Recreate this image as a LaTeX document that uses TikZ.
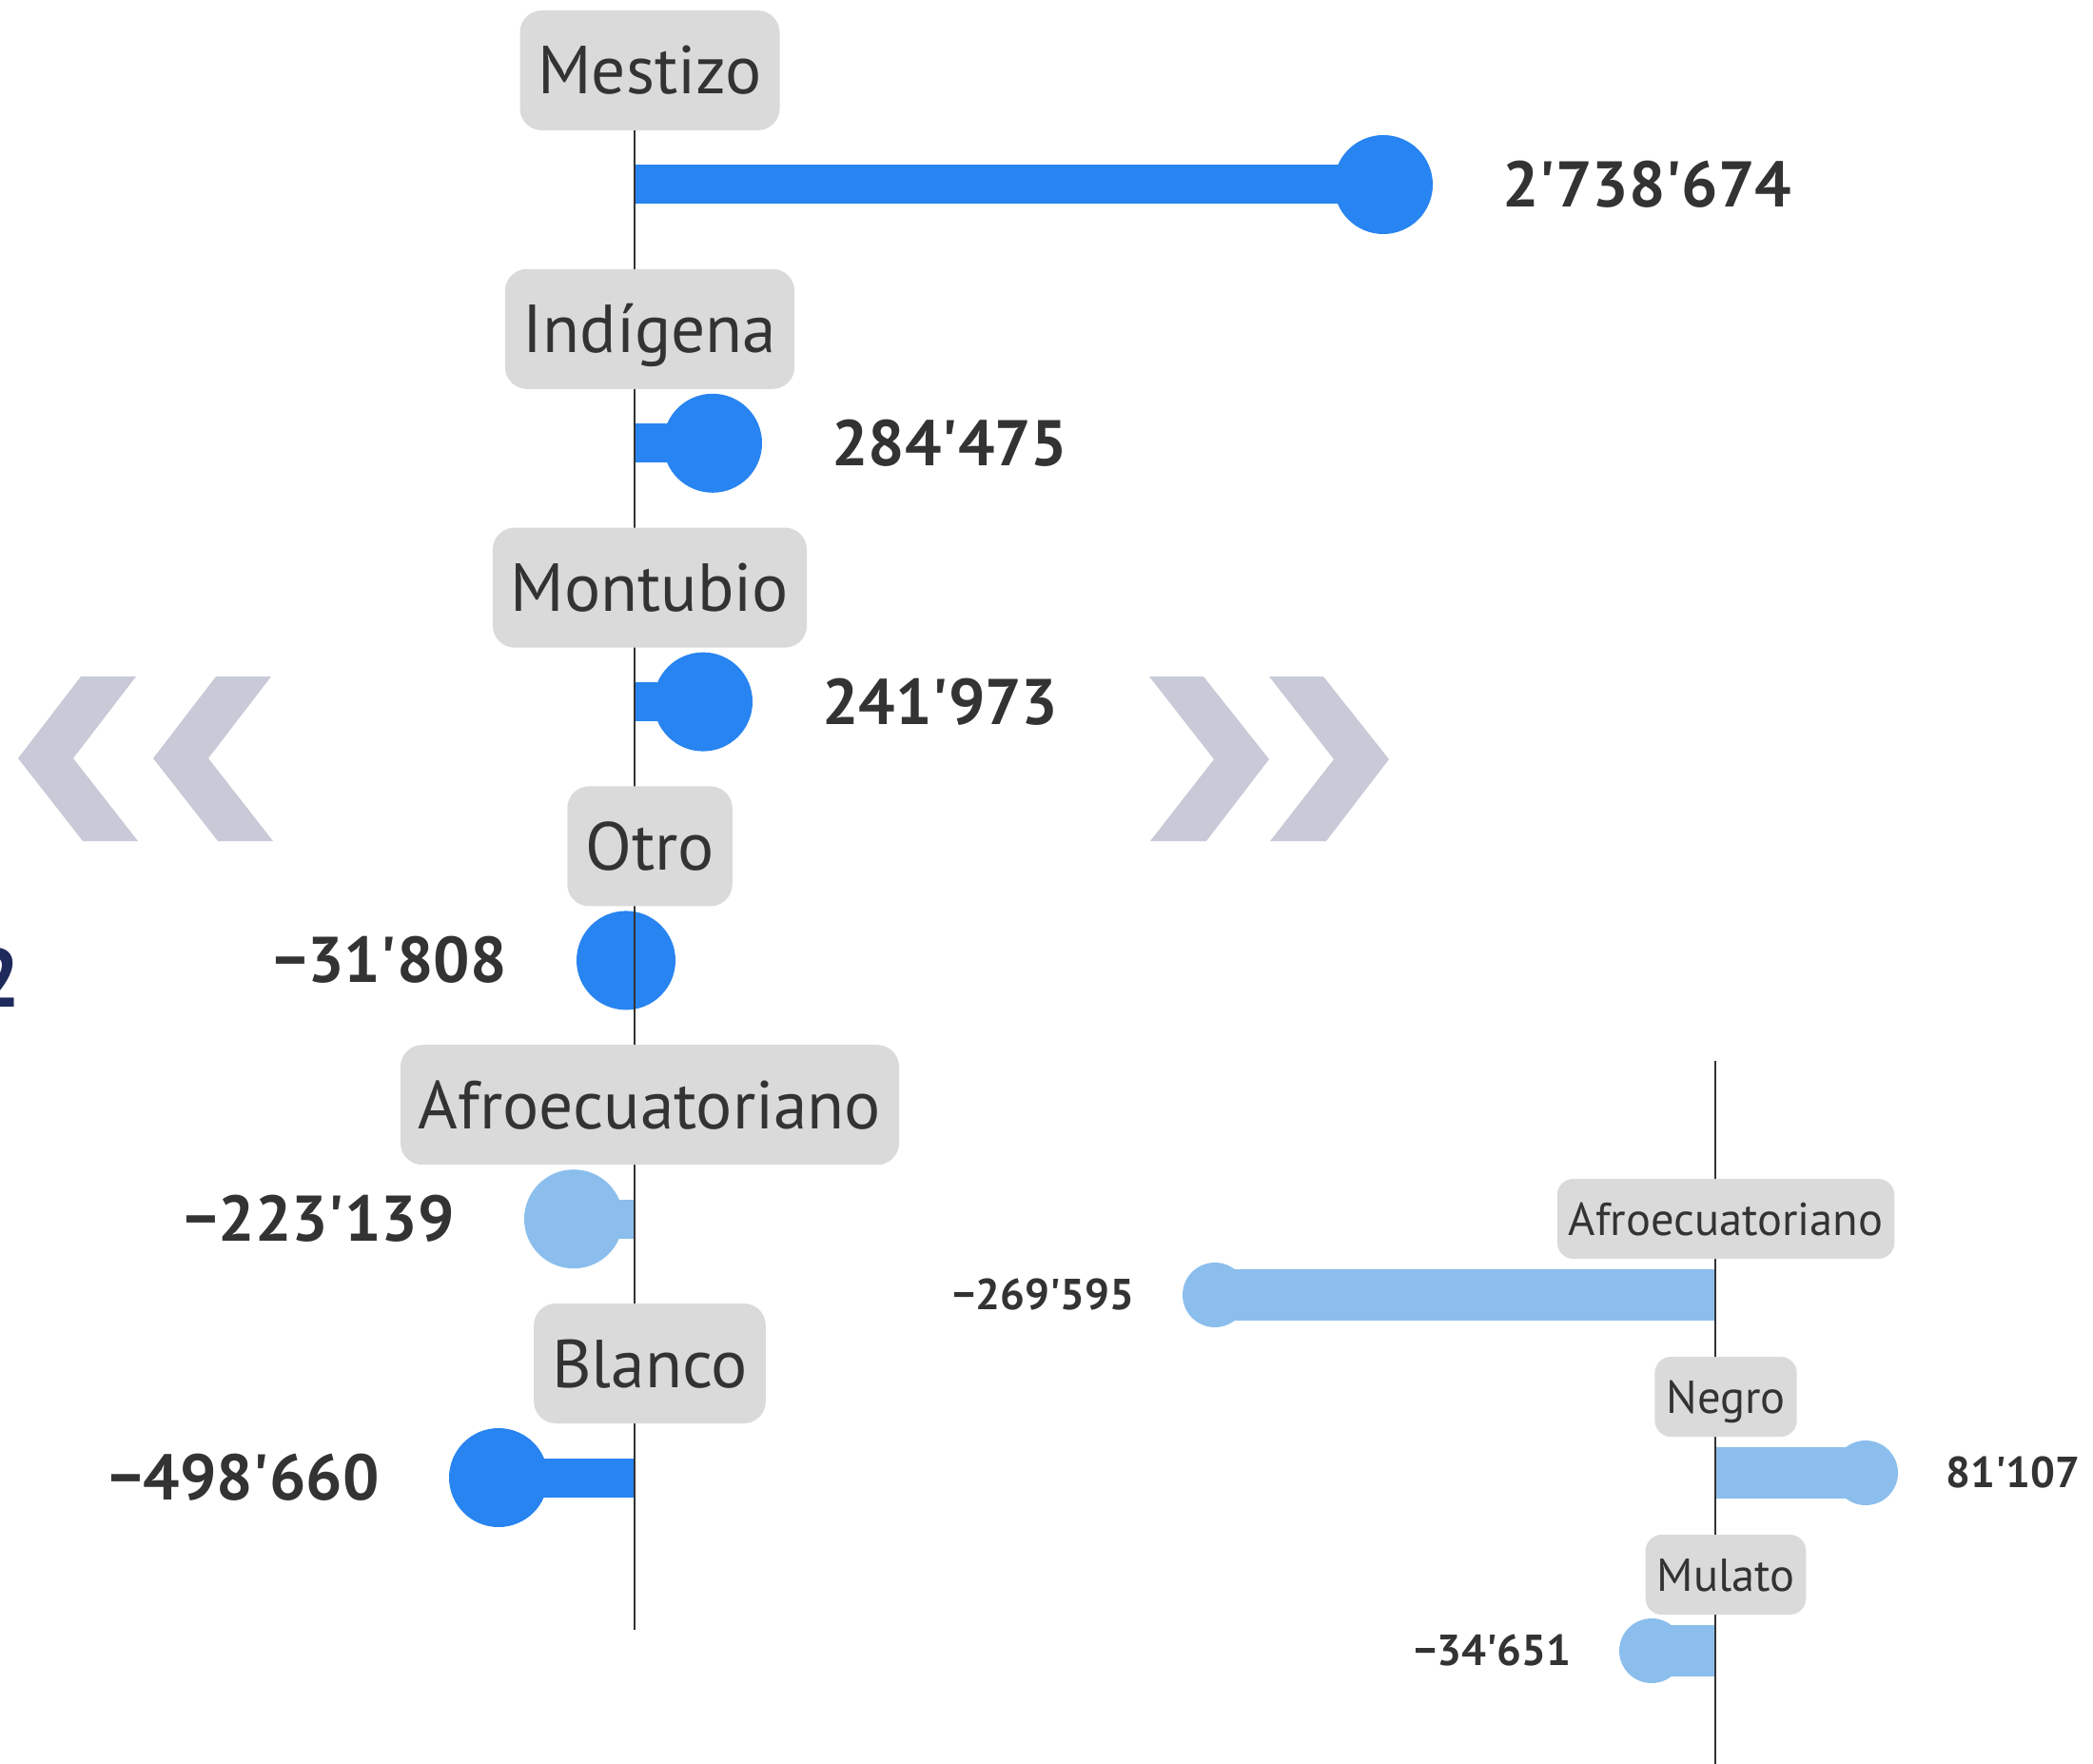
\documentclass[tikz,border=0pt]{standalone}
\usepackage{fontspec}
\setmainfont{PT Sans}[Ligatures=TeXOff]
\usetikzlibrary{positioning}
\definecolor{barblue}{HTML}{2884F0}
\definecolor{barlight}{HTML}{8BBEEC}
\definecolor{tagbg}{HTML}{DADADA}
\definecolor{ink}{HTML}{333333}
\definecolor{chev}{HTML}{C8CAD8}
\definecolor{navy}{HTML}{1F2A5C}
\begin{document}
\begin{tikzpicture}[line join=round,
	tag/.style={fill=tagbg, rounded corners=0.23cm, inner xsep=0.19cm, inner ysep=0.38cm, text height=0.5cm, text depth=0pt, text=ink, font=\fontsize{20.3}{24}\selectfont},
	smalltag/.style={fill=tagbg, rounded corners=0.17cm, inner xsep=0.12cm, inner ysep=0.25cm, text height=0.34cm, text depth=0pt, text=ink, font=\fontsize{13.8}{16}\selectfont},
	val/.style={inner sep=0pt, text height=0.47cm, text depth=0pt, text=ink, font=\bfseries\fontsize{19.3}{23}\selectfont},
	smallval/.style={inner sep=0pt, text height=0.31cm, text depth=0pt, text=ink, font=\bfseries\fontsize{13}{16}\selectfont},
	dot/.style={circle, inner sep=0pt, minimum size=1.04cm},
	smalldot/.style={circle, inner sep=0pt, minimum size=0.68cm},
	bar/.style={line width=0.41cm},
	smallbar/.style={line width=0.54cm},
	axis/.style={draw=ink, line width=0.5pt}]
	\useasboundingbox (0,0) rectangle (22,-18.54);
	% chevrons
	\foreach \x in {0.85,2.27}
		\fill[chev] (\x,-7.11) -- ++(0.58,0) -- ++(-0.66,-0.86) -- ++(0.68,-0.87) -- ++(-0.58,0) -- ++(-0.68,0.87) -- cycle;
	\foreach \x in {12.08,13.34}
		\fill[chev] (\x,-7.11) -- ++(0.57,0) -- ++(0.69,-0.87) -- ++(-0.66,-0.86) -- ++(-0.59,0) -- ++(0.67,0.86) -- cycle;
	\node[anchor=south east, inner sep=0pt, text=navy, font=\bfseries\fontsize{24.7}{28}\selectfont] (step2) at (0.22,-10.59) {2};
	% main chart
	\foreach \i/\xe/\val/\col/\side in {0/14.54/2'738'674/barblue/right, 1/7.49/284'475/barblue/right, 2/7.39/241'973/barblue/right, 3/6.58/−31'808/barblue/left, 4/6.03/−223'139/barlight/left, 5/5.24/−498'660/barblue/left} {
			\pgfmathsetmacro\y{-1.94-2.718*\i}
			\coordinate (base-\i) at (6.67,\y);
			\node[dot, fill=\col] (dot-\i) at (\xe,\y) {};
			\draw[bar, \col] (base-\i) -- (dot-\i.center);
			\node[val, \side=0.72 of dot-\i] (val-\i) {\val};
		}
	\coordinate (axtop) at (6.67,-1.37);
	\coordinate (axbot) at (6.67,-17.13);
	\draw[axis] (axtop) -- (axbot);
	\foreach \i/\name in {0/Mestizo, 1/Indígena, 2/Montubio, 3/Otro, 4/Afroecuatoriano, 5/Blanco} {
			\pgfmathsetmacro\y{-0.74-2.718*\i}
			\node[tag] (lab-\i) at (6.83,\y) {\name};
		}
	% small chart
	\foreach \i/\xe/\val/\side in {0/12.77/−269'595/left, 1/19.61/81'107/right, 2/17.36/−34'651/left} {
			\pgfmathsetmacro\y{-13.61-1.87*\i}
			\coordinate (sbase-\i) at (18.03,\y);
			\node[smalldot, fill=barlight] (sdot-\i) at (\xe,\y) {};
			\draw[smallbar, barlight] (sbase-\i) -- (sdot-\i.center);
			\node[smallval, \side=0.49 of sdot-\i] (sval-\i) {\val};
		}
	\coordinate (saxtop) at (18.03,-11.15);
	\coordinate (saxbot) at (18.03,-18.54);
	\draw[axis] (saxtop) -- (saxbot);
	\foreach \i/\name in {0/Afroecuatoriano, 1/Negro, 2/Mulato} {
			\pgfmathsetmacro\y{-12.81-1.87*\i}
			\node[smalltag] (slab-\i) at (18.14,\y) {\name};
		}
\end{tikzpicture}
\end{document}
